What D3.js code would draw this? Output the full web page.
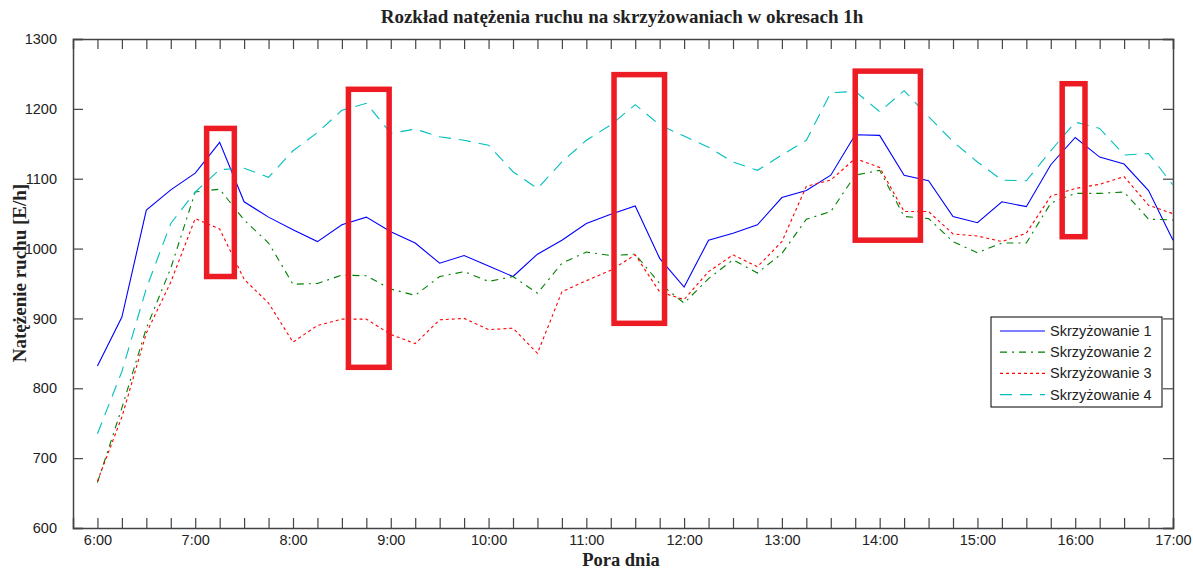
<!DOCTYPE html>
<html>
<head>
<meta charset="utf-8">
<script src="https://cdn.jsdelivr.net/npm/d3@7"></script>
<style>
  body { margin: 0; background: #fff; }
  svg text { fill: #222; }
</style>
</head>
<body>
<div id="chart"></div>
<script>
// Pomiary co 15 minut, 6:00 - 17:00 (minuty od północy)
const times = d3.range(360, 1021, 15);

const skrzyzowanie1 = [832, 902, 1055, 1084, 1108, 1152, 1067, 1045,
  1027, 1010, 1034, 1045, 1024, 1008, 979, 990,
  975, 960, 992, 1012, 1036, 1049, 1061, 986,
  945, 1012, 1022, 1034, 1073, 1083, 1105, 1163,
  1162, 1105, 1097, 1046, 1037, 1067, 1060, 1120,
  1159, 1131, 1121, 1083, 1012];

const skrzyzowanie2 = [665, 772, 886, 972, 1081, 1085, 1041, 1008,
  949, 950, 962, 961, 942, 933, 960, 967,
  953, 960, 936, 979, 995, 990, 992, 950,
  922, 957, 984, 965, 993, 1042, 1053, 1105,
  1112, 1046, 1043, 1010, 994, 1008, 1008, 1065,
  1079, 1079, 1081, 1042, 1041];

const skrzyzowanie3 = [667, 759, 879, 952, 1043, 1028, 956, 922,
  866, 890, 899, 899, 877, 864, 898, 900,
  884, 886, 850, 938, 954, 969, 991, 938,
  927, 967, 991, 974, 1010, 1089, 1098, 1129,
  1116, 1053, 1053, 1021, 1018, 1010, 1022, 1075,
  1086, 1092, 1103, 1062, 1050];

const skrzyzowanie4 = [735, 824, 943, 1036, 1081, 1113, 1115, 1102,
  1140, 1166, 1198, 1208, 1165, 1171, 1160, 1155,
  1148, 1110, 1086, 1124, 1155, 1177, 1206, 1177,
  1161, 1145, 1124, 1112, 1134, 1155, 1223, 1225,
  1196, 1226, 1189, 1153, 1124, 1098, 1097, 1140,
  1181, 1172, 1134, 1136, 1091];

const seriesNames = ['Skrzyżowanie 1', 'Skrzyżowanie 2', 'Skrzyżowanie 3', 'Skrzyżowanie 4'];
const yTicks = [600, 700, 800, 900, 1000, 1100, 1200, 1300];
const hourTicks = d3.range(360, 1021, 60);

// Zaznaczone obszary: [od minuty, do minuty, wartość górna, wartość dolna]
const highlights = [
  [427, 444, 1172, 960],
  [514, 539, 1228, 830],
  [677, 708, 1249, 893],
  [825, 865, 1254, 1012],
  [952, 966, 1236, 1017]
];

const series = [skrzyzowanie1, skrzyzowanie2, skrzyzowanie3, skrzyzowanie4];
const styles = [
  { color: '#0000ff', dash: null },
  { color: '#008000', dash: '7,5,2,5' },
  { color: '#ff0000', dash: '3,3' },
  { color: '#00bfbf', dash: '12,8' }
];

const width = 1193, height = 569;
const margin = { top: 39, right: 20, bottom: 41, left: 73 };
const plotW = width - margin.left - margin.right;
const plotH = height - margin.top - margin.bottom;

const svg = d3.select('#chart')
  .append('svg')
  .attr('width', width)
  .attr('height', height);

const x = d3.scaleLinear().domain([345, 1020]).range([margin.left, margin.left + plotW]);
const y = d3.scaleLinear().domain([600, 1300]).range([margin.top + plotH, margin.top]);

const fmtTime = m => `${Math.floor(m / 60)}:${String(m % 60).padStart(2, '0')}`;
const tickColor = '#444';

// Dolna oś z etykietami co godzinę, znaczniki co 15 minut
const xAxisBottom = svg.append('g')
  .attr('transform', `translate(0,${y(600)})`)
  .call(d3.axisBottom(x).tickValues(times).tickSize(-10).tickFormat(''));
const xLabels = svg.append('g')
  .attr('transform', `translate(0,${y(600)})`)
  .call(d3.axisBottom(x).tickValues(hourTicks).tickSize(0).tickPadding(7).tickFormat(fmtTime));
xLabels.select('.domain').remove();

const xAxisTop = svg.append('g')
  .attr('transform', `translate(0,${y(1300)})`)
  .call(d3.axisTop(x).tickValues(times).tickSize(-10).tickFormat(''));

const yAxisLeft = svg.append('g')
  .attr('transform', `translate(${x(345)},0)`)
  .call(d3.axisLeft(y).tickValues(yTicks).tickSize(-10).tickPadding(16).tickFormat(d3.format('d')));
const yAxisRight = svg.append('g')
  .attr('transform', `translate(${x(1020)},0)`)
  .call(d3.axisRight(y).tickValues(yTicks).tickSize(-10).tickFormat(''));

[xAxisBottom, xAxisTop, yAxisLeft, yAxisRight].forEach(g => {
  g.select('.domain').attr('stroke', tickColor).attr('stroke-width', 1.5);
  g.selectAll('.tick line').attr('stroke', tickColor).attr('stroke-width', 1.2);
});

svg.selectAll('.tick text')
  .attr('font-family', '"Liberation Sans", Arial, sans-serif')
  .attr('font-size', 14.5)
  .attr('fill', '#222');
xLabels.selectAll('.tick text').attr('dy', '0.71em');

// Linie
const line = d3.line()
  .x((d, i) => x(times[i]))
  .y(d => y(d));

series.forEach((s, i) => {
  svg.append('path')
    .datum(s)
    .attr('fill', 'none')
    .attr('stroke', styles[i].color)
    .attr('stroke-width', 1.1)
    .attr('stroke-dasharray', styles[i].dash)
    .attr('d', line);
});

// Czerwone prostokąty
svg.selectAll('.highlight')
  .data(highlights)
  .join('rect')
  .attr('class', 'highlight')
  .attr('x', d => x(d[0]))
  .attr('y', d => y(d[2]))
  .attr('width', d => x(d[1]) - x(d[0]))
  .attr('height', d => y(d[3]) - y(d[2]))
  .attr('fill', 'none')
  .attr('stroke', '#ed1c24')
  .attr('stroke-width', 5.5);

// Legenda
const legend = svg.append('g').attr('transform', 'translate(991,317)');
legend.append('rect')
  .attr('width', 171)
  .attr('height', 90)
  .attr('fill', '#fff')
  .attr('stroke', '#000')
  .attr('stroke-width', 1);

seriesNames.forEach((name, i) => {
  const ry = 14 + i * 21.2;
  legend.append('line')
    .attr('x1', 9).attr('x2', 54)
    .attr('y1', ry).attr('y2', ry)
    .attr('stroke', styles[i].color)
    .attr('stroke-width', 1.2)
    .attr('stroke-dasharray', styles[i].dash);
  legend.append('text')
    .attr('x', 59)
    .attr('y', ry)
    .attr('dy', '0.35em')
    .attr('font-family', '"Liberation Sans", Arial, sans-serif')
    .attr('font-size', 14.5)
    .text(name);
});

// Tytuł i opisy osi
const serif = '"Liberation Serif", "Times New Roman", serif';
svg.append('text')
  .attr('x', 622)
  .attr('y', 23)
  .attr('text-anchor', 'middle')
  .attr('font-family', serif)
  .attr('font-weight', 'bold')
  .attr('font-size', 19)
  .text('Rozkład natężenia ruchu na skrzyżowaniach w okresach 1h');

svg.append('text')
  .attr('x', 621)
  .attr('y', 566)
  .attr('text-anchor', 'middle')
  .attr('font-family', serif)
  .attr('font-weight', 'bold')
  .attr('font-size', 18.5)
  .text('Pora dnia');

svg.append('text')
  .attr('transform', 'translate(26,273) rotate(-90)')
  .attr('text-anchor', 'middle')
  .attr('font-family', serif)
  .attr('font-weight', 'bold')
  .attr('font-size', 19)
  .text('Natężenie ruchu [E/h]');
</script>
</body>
</html>
